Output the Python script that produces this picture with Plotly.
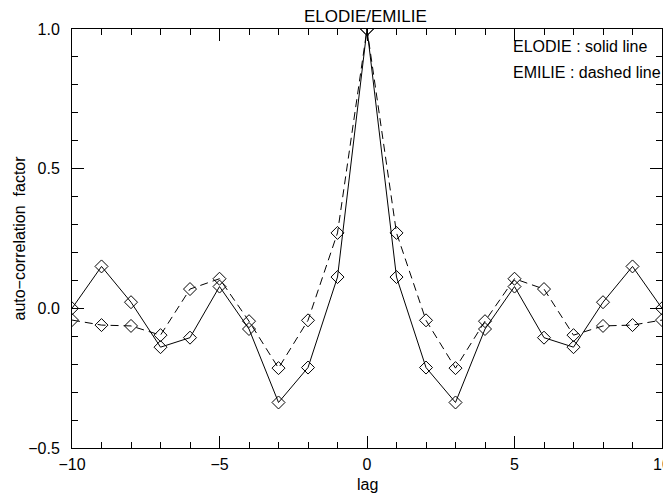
import plotly.graph_objects as go

lags = list(range(-10, 11))
elodie = [0.0, 0.150, 0.022, -0.139, -0.105, 0.078, -0.074, -0.337, -0.212, 0.112, 1.0,
          0.112, -0.212, -0.337, -0.074, 0.078, -0.105, -0.139, 0.022, 0.150, 0.0]
emilie = [-0.042, -0.060, -0.063, -0.096, 0.069, 0.106, -0.046, -0.214, -0.043, 0.270, 1.0,
          0.270, -0.043, -0.214, -0.046, 0.106, 0.069, -0.096, -0.063, -0.060, -0.042]

y_ticks = [-0.5, 0.0, 0.5, 1.0]
y_ticklabels = ["−0.5", "0.0", "0.5", "1.0"]
x_ticks = [-10, -5, 0, 5, 10]
x_ticklabels = ["−10", "−5", "0", "5", "10"]

FONT = "Liberation Sans"
FS = 16

fig = go.Figure()
fig.add_trace(go.Scatter(
    x=lags, y=elodie, mode="lines+markers", name="ELODIE",
    line=dict(color="black", width=1),
    marker=dict(symbol="diamond-open", size=10, color="black", line=dict(width=1)),
))
fig.add_trace(go.Scatter(
    x=lags, y=emilie, mode="lines+markers", name="EMILIE",
    line=dict(color="black", width=1, dash="8px,5px"),
    marker=dict(symbol="diamond-open", size=10, color="black", line=dict(width=1)),
))

fig.add_annotation(x=4.88, y=0.937, xref="x", yref="y", text="ELODIE : solid line",
                   showarrow=False, xanchor="left", yanchor="middle",
                   font=dict(family=FONT, size=FS, color="black"))
fig.add_annotation(x=4.88, y=0.843, xref="x", yref="y", text="EMILIE : dashed line",
                   showarrow=False, xanchor="left", yanchor="middle",
                   font=dict(family=FONT, size=FS, color="black"))
# axis titles
fig.add_annotation(x=-0.0898, y=0.5, xref="paper", yref="paper", text="auto−correlation  factor",
                   showarrow=False, xanchor="center", yanchor="middle", textangle=-90,
                   font=dict(family=FONT, size=FS, color="black"))
fig.add_annotation(x=0.5, y=-0.087, xref="paper", yref="paper", text="lag",
                   showarrow=False, xanchor="center", yanchor="middle",
                   font=dict(family=FONT, size=FS, color="black"))

fig.update_layout(
    width=663, height=486,
    margin=dict(l=64, r=9, t=21, b=46),
    paper_bgcolor="white", plot_bgcolor="white",
    showlegend=False,
    font=dict(family=FONT, size=FS, color="black"),
    title=dict(text="ELODIE/EMILIE", x=0.539, xanchor="center", y=0.9835, yanchor="middle",
               font=dict(family=FONT, size=17, color="black")),
)
fig.update_xaxes(
    range=[-10, 10], showgrid=False, zeroline=False, automargin=False,
    showline=True, linecolor="black", linewidth=1, mirror="allticks",
    ticks="inside", ticklen=12, tickcolor="black", tickwidth=1,
    tickvals=x_ticks, ticktext=x_ticklabels, ticklabelstandoff=2,
    minor=dict(ticks="inside", dtick=1, ticklen=6, tickcolor="black", tickwidth=1, showgrid=False),
    tickfont=dict(family=FONT, size=FS),
)
fig.update_yaxes(
    range=[-0.5, 1.0], showgrid=False, zeroline=False, automargin=False,
    showline=True, linecolor="black", linewidth=1, mirror="allticks",
    ticks="inside", ticklen=12, tickcolor="black", tickwidth=1,
    tickvals=y_ticks, ticktext=y_ticklabels, ticklabelstandoff=8,
    minor=dict(ticks="inside", dtick=0.1, tick0=0, ticklen=6, tickcolor="black", tickwidth=1, showgrid=False),
    tickfont=dict(family=FONT, size=FS),
)

fig.write_html("out.html")
